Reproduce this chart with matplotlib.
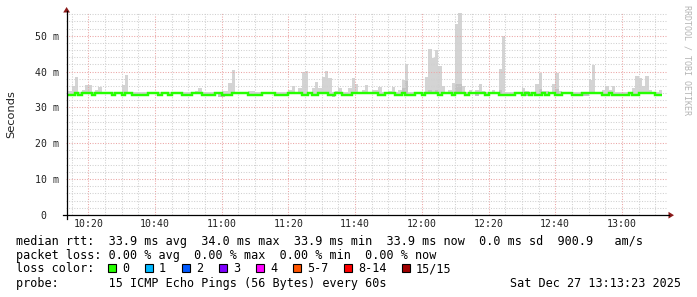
import matplotlib
matplotlib.use("Agg")
import matplotlib.pyplot as plt
from matplotlib.patches import Polygon, Rectangle
from matplotlib.lines import Line2D

# ---------------- data (minutes after 10:00, values in ms) ----------------
minutes = list(range(14, 192))

median_rtt = [
    33.6, 33.6, 33.9, 33.6, 33.9, 33.9,                              # 14-19
    33.9, 33.6, 33.9, 33.9, 33.9, 33.9, 33.9, 33.6, 33.9, 33.9,      # 20-29
    33.6, 33.9, 33.9, 33.6, 33.6, 33.6, 33.6, 33.6, 33.9, 33.9,      # 30-39
    33.9, 33.6, 33.9, 33.9, 33.6, 33.9, 33.9, 33.9, 33.6, 33.6,      # 40-49
    33.6, 33.9, 33.9, 33.9, 33.6, 33.6, 33.6, 33.6, 33.9, 33.9,      # 50-59
    33.6, 33.6, 33.6, 33.9, 33.9, 33.9, 33.9, 33.9, 33.6, 33.6,      # 60-69
    33.6, 33.6, 33.9, 33.9, 33.9, 33.9, 33.6, 33.6, 33.6, 33.6,      # 70-79
    33.9, 33.9, 33.9, 33.9, 33.6, 33.6, 33.9, 33.6, 33.6, 33.9,      # 80-89
    33.9, 33.9, 33.6, 33.6, 33.9, 33.9, 33.6, 33.6, 33.6, 33.9,      # 90-99
    33.9, 33.9, 33.9, 33.9, 33.9, 33.9, 33.9, 33.6, 33.6, 33.9,      # 100-109
    33.9, 33.9, 33.6, 33.6, 33.9, 33.6, 33.6, 33.6, 33.9, 33.9,      # 110-119
    33.6, 33.9, 33.9, 33.9, 33.9, 33.6, 33.9, 33.9, 33.9, 33.6,      # 120-129
    33.9, 33.9, 33.9, 33.6, 33.9, 33.9, 33.9, 33.9, 33.9, 33.6,      # 130-139
    33.9, 33.9, 33.9, 33.6, 33.6, 33.6, 33.6, 33.6, 33.9, 33.9,      # 140-149
    33.6, 33.9, 33.6, 33.9, 33.6, 33.6, 33.9, 33.6, 33.9, 33.9,      # 150-159
    33.6, 33.6, 33.9, 33.9, 33.9, 33.6, 33.6, 33.6, 33.9, 33.9,      # 160-169
    33.9, 33.9, 33.9, 33.9, 33.6, 33.6, 33.9, 33.6, 33.6, 33.6,      # 170-179
    33.6, 33.6, 33.9, 33.6, 33.6, 33.9, 33.9, 33.9, 33.9, 33.9,      # 180-189
    33.6, 33.6,                                                      # 190-191
]

smoke_max = [
    34.5, 36.0, 38.5, 34.2, 34.8, 36.2,                              # 14-19
    36.2, 34.2, 34.8, 35.7, 34.2, 34.2, 34.2, 34.2, 34.2, 34.2,      # 20-29
    36.2, 39.0, 34.2, 34.2, 34.2, 34.2, 34.2, 34.2, 34.2, 34.2,      # 30-39
    34.2, 34.2, 34.2, 34.2, 34.2, 34.2, 34.2, 34.2, 34.2, 34.2,      # 40-49
    34.2, 34.2, 34.5, 35.4, 34.2, 34.2, 34.2, 34.2, 34.2, 34.2,      # 50-59
    34.5, 34.5, 36.8, 40.4, 34.2, 34.2, 34.2, 34.2, 34.5, 34.5,      # 60-69
    34.2, 34.2, 34.2, 34.2, 34.2, 34.2, 34.2, 34.2, 34.2, 34.2,      # 70-79
    34.8, 36.1, 34.2, 35.4, 39.9, 40.3, 34.2, 35.4, 37.1, 35.4,      # 80-89
    38.6, 40.1, 38.2, 34.2, 34.5, 35.3, 34.2, 34.2, 35.3, 38.2,      # 90-99
    36.5, 34.2, 34.8, 36.3, 34.2, 34.8, 34.8, 35.7, 34.2, 34.2,      # 100-109
    34.5, 35.7, 34.2, 34.8, 37.6, 42.1, 34.2, 34.2, 34.2, 34.2,      # 110-119
    34.2, 38.5, 46.3, 43.7, 45.9, 41.6, 36.1, 34.2, 34.8, 36.8,      # 120-129
    53.4, 56.2, 35.9, 34.2, 34.8, 34.2, 35.0, 36.5, 34.5, 34.2,      # 130-139
    34.2, 34.8, 34.2, 40.7, 49.8, 34.2, 34.2, 34.2, 34.2, 34.2,      # 140-149
    35.4, 34.5, 34.2, 34.2, 36.5, 39.6, 34.5, 34.5, 34.2, 36.5,      # 150-159
    39.6, 34.5, 34.2, 34.2, 34.2, 34.2, 34.2, 34.2, 34.2, 34.3,      # 160-169
    37.6, 41.9, 34.2, 34.2, 35.0, 36.0, 35.0, 36.0, 34.2, 34.2,      # 170-179
    34.2, 34.2, 34.2, 35.4, 38.8, 38.2, 36.0, 38.8, 34.8, 34.2,      # 180-189
    34.2, 34.8,                                                      # 190-191
]

smoke_min_default = 33.7
smoke_min_low = {59: 33.0, 60: 33.0, 61: 33.2, 93: 33.0, 96: 33.3, 97: 33.2,
                 112: 33.3, 125: 33.3, 133: 33.3, 136: 33.2, 151: 33.3, 168: 33.3,
                 169: 33.2}
smoke_dense_top = {114: 35.5, 115: 37.3, 122: 35.0, 124: 35.0, 130: 36.4,
                   131: 36.4, 143: 35.0, 155: 35.2, 160: 35.2}

x_ticks = [20, 40, 60, 80, 100, 120, 140, 160, 180]
x_tick_labels = ["10:20", "10:40", "11:00", "11:20", "11:40",
                 "12:00", "12:20", "12:40", "13:00"]
y_ticks = [0, 10, 20, 30, 40, 50]
y_tick_labels = ["0  ", "10 m", "20 m", "30 m", "40 m", "50 m"]

legend_rtt = "median rtt:  33.9 ms avg  34.0 ms max  33.9 ms min  33.9 ms now  0.0 ms sd  900.9   am/s"
legend_loss = "packet loss: 0.00 % avg  0.00 % max  0.00 % min  0.00 % now"
loss_labels = ["0", "1", "2", "3", "4", "5-7", "8-14", "15/15"]
loss_colors = ["#26ff00", "#00b8ff", "#0059ff", "#7e00ff", "#ff00ff",
               "#ff5500", "#ff0000", "#a00000"]
probe_text = "probe:       15 ICMP Echo Pings (56 Bytes) every 60s"
date_text = "Sat Dec 27 13:13:23 2025"

# ---------------- figure ----------------
W, H = 697, 297
fig = plt.figure(figsize=(W / 100, H / 100), dpi=100)
fig.patch.set_facecolor("white")

def fx(px):
    return px / W

def fy(py):
    return 1 - py / H

ax_left, ax_right, ax_top, ax_bot = 66.3, 666.6, 11.7, 215.0
ax = fig.add_axes([fx(ax_left), fy(ax_bot), (ax_right - ax_left) / W, (ax_bot - ax_top) / H])
ax.set_xlim(13.4, 193.4)
ax.set_ylim(0, 56.7)
for s in ax.spines.values():
    s.set_visible(False)

edges = minutes + [minutes[-1] + 1]
lows = [smoke_min_low.get(m, smoke_min_default) for m in minutes]
ax.stairs(smoke_max, edges, baseline=lows, fill=True, color="#d4d4d4", lw=0, zorder=2)
dense_top = [smoke_dense_top.get(m, smoke_min_default) for m in minutes]
ax.stairs(dense_top, edges, baseline=lows, fill=True, color="#c2c2c2", lw=0, zorder=2.1)

# grid
mono = "DejaVu Sans Mono"
ax.set_xticks(x_ticks)
ax.set_xticklabels(x_tick_labels, family=mono, fontsize=7.1, color="#202020")
ax.set_xticks(list(range(15, 195, 5)), minor=True)
ax.set_yticks(y_ticks)
ax.set_yticklabels(y_tick_labels, family=mono, fontsize=7.1, color="#202020")
ax.set_yticks([v for v in range(2, 57, 2) if v % 10], minor=True)
ax.tick_params(which="both", length=0)
ax.tick_params(axis="x", pad=3)
ax.tick_params(axis="y", pad=5)
ax.grid(which="minor", color="#d0d0d0", linestyle=(0, (1, 1.5)), linewidth=0.75, zorder=3)
ax.grid(which="major", color="#eba5a5", linestyle=(0, (1, 1.5)), linewidth=0.75, zorder=3)
ax.set_axisbelow(False)

ax.stairs(median_rtt, edges, baseline=None, color="#26ff00", lw=1.75, zorder=4)

# axes lines and arrows
fig.add_artist(Line2D([fx(62.7), fx(669)], [fy(215.2), fy(215.2)], color="black", lw=0.9))
fig.add_artist(Line2D([fx(66.6), fx(66.6)], [fy(218.5), fy(11)], color="black", lw=0.9))
fig.add_artist(Polygon([(fx(668.5), fy(211.8)), (fx(668.5), fy(218.6)), (fx(674), fy(215.2))],
                       closed=True, color="#8b1a1a", lw=0))
fig.add_artist(Polygon([(fx(63.2), fy(12.5)), (fx(70.0), fy(12.5)), (fx(66.6), fy(7))],
                       closed=True, color="#8b1a1a", lw=0))

# labels
fig.text(fx(11), fy(114), "Seconds", rotation=90, ha="center", va="center",
         family="DejaVu Sans", fontsize=8.2, color="#202020")
fig.text(fx(687), fy(5), "RRDTOOL / TOBI OETIKER", rotation=270, ha="center", va="top",
         family=mono, fontsize=6.0, color="#b4b4b4")

fs = 8.45
cw = 7.1
x0 = 16.2
fig.text(fx(x0), fy(241), legend_rtt, family=mono, fontsize=fs, va="center", ha="left")
fig.text(fx(x0), fy(255.5), legend_loss, family=mono, fontsize=fs, va="center", ha="left")
fig.text(fx(x0), fy(269), "loss color:", family=mono, fontsize=fs, va="center", ha="left")
bx = x0 + 13 * cw - 0.5
for lab, col in zip(loss_labels, loss_colors):
    fig.add_artist(Rectangle((fx(bx), fy(272.0)), 8.0 / W, 8.0 / H, facecolor=col,
                             edgecolor="black", lw=0.8))
    fig.text(fx(bx + 2 * cw), fy(269), lab, family=mono, fontsize=fs, va="center", ha="left")
    bx += (2 + len(lab) + 2.2) * cw
fig.text(fx(x0), fy(283.5), probe_text, family=mono, fontsize=fs, va="center", ha="left")
fig.text(fx(681.5), fy(283.5), date_text, family=mono, fontsize=fs, va="center", ha="right")

fig.savefig("out.png", dpi=100, facecolor="white")
